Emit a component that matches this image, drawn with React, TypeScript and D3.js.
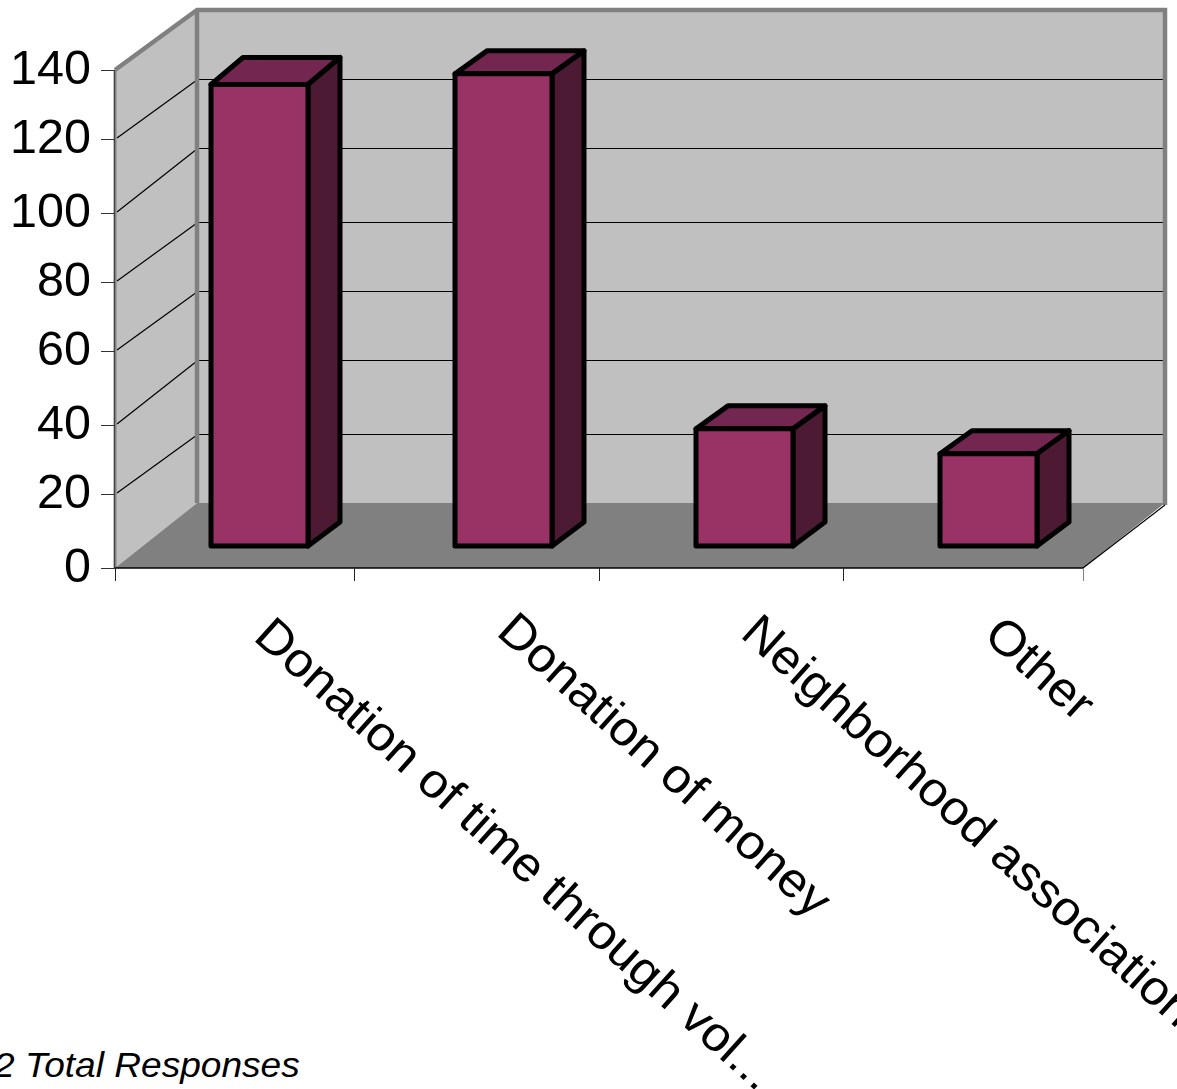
import React from "react";
import * as d3 from "d3";

const categories = ["Donation of time through vol...", "Donation of money", "Neighborhood association", "Other"];
const responses = [130, 133, 33, 26];
const yTicks = [0, 20, 40, 60, 80, 100, 120, 140];
const footnote = "2 Total Responses";

const W = 1177, H = 1089;
const font = "'Liberation Sans', Arial, sans-serif";
const GRAY = "#808080", WALL = "#c0c0c0";

const yFront = d3.scaleLinear().domain(yTicks).range([568, 494, 425, 351, 282, 213, 139, 70]);
const yBack = d3.scaleLinear().domain(yTicks).range([503, 434, 360, 291, 222, 148, 79, 10]);
const xTick = d3.scaleLinear().domain([0, 1, 2, 3, 4]).range([115, 354, 599, 843, 1083]);
const xBar = d3.scaleOrdinal<string, number>().domain(categories).range([211, 455, 696, 940]);
const yBar = d3.scaleLinear().domain([0, 140]).range([546, 49]);

const DX = 82, BAR_W = 97, BAR_DX = 32, BAR_DY_BOTTOM = 24;
const barDepthTop = [27, 23, 23, 23];
const labelAnchor = [[252, 639], [495, 634], [739, 636], [982, 638]];
const pts = (a: number[][]) => a.map((p) => p.join(",")).join(" ");

export default function App() {
  const x0 = xTick(0), x1 = xTick(4);
  const bx0 = x0 + DX, bx1 = x1 + DX;
  const yf0 = yFront(0), yf1 = yFront(140), yb0 = yBack(0), yb1 = yBack(140);
  return (
    <svg width={W} height={H} style={{ position: "absolute", left: 0, top: 0, background: "#fff" }} fontFamily={font}>
      <rect x={bx0} y={yb1} width={bx1 - bx0} height={yb0 - yb1} fill={WALL} />
      <polygon points={pts([[x0, yf1], [bx0, yb1], [bx0, yb0], [x0, yf0]])} fill={WALL} />
      <polygon points={pts([[x0, yf0], [bx0, yb0], [bx1, yb0], [x1, yf0]])} fill={GRAY} />
      {yTicks.filter((t) => t > 0 && t < 140).map((t) => (
        <g key={t} stroke="#000">
          <line x1={bx0} x2={bx1} y1={yBack(t) + 0.5} y2={yBack(t) + 0.5} strokeWidth={1} shapeRendering="crispEdges" />
          <line x1={x0 + 2} x2={bx0} y1={yFront(t) - 1} y2={yBack(t) + 1} strokeWidth={1.2} />
        </g>
      ))}
      <g stroke={GRAY} fill="none">
        <polyline points={pts([[x0, yf1], [bx0, yb1], [bx1, yb1], [bx1, yb0 + 2]])} strokeWidth={4.5} />
        <line x1={bx0} x2={bx0} y1={yb1} y2={yb0} strokeWidth={4.5} />
        <line x1={x0} x2={x0} y1={yf1} y2={yf0} strokeWidth={3} />
        <line x1={x0 - 0.5} x2={x0 - 0.5} y1={yf1} y2={yf0} stroke="#444" strokeWidth={1} />
      </g>
      <line x1={x0} x2={x1} y1={yf0} y2={yf0} stroke="#000" strokeWidth={1.5} />
      <line x1={x1} x2={bx1} y1={yf0} y2={yb0 + 2} stroke="#000" strokeWidth={1.2} />
      {yTicks.map((t) => (
        <g key={t}>
          <line x1={x0 - 14} x2={x0} y1={yFront(t) + 0.5} y2={yFront(t) + 0.5} stroke="#333" strokeWidth={1} shapeRendering="crispEdges" />
          <text x={91} y={yFront(t) + 14} textAnchor="end" fontSize={48.5} fill="#000">{t}</text>
        </g>
      ))}
      {d3.range(5).map((i) => (
        <line key={i} x1={xTick(i) + 0.5} x2={xTick(i) + 0.5} y1={yf0} y2={yf0 + 13} stroke={i === 4 ? GRAY : "#222"} strokeWidth={1} shapeRendering="crispEdges" />
      ))}
      {categories.map((c, i) => {
        const x = xBar(c), top = yBar(responses[i]), bot = yBar(0), r = x + BAR_W, d = barDepthTop[i];
        return (
          <g key={c} stroke="#000" strokeWidth={5} strokeLinejoin="round">
            <polygon points={pts([[x, top], [x + BAR_DX, top - d], [r + BAR_DX, top - d], [r, top]])} fill="#732650" />
            <polygon points={pts([[r, top], [r + BAR_DX, top - d], [r + BAR_DX, bot - BAR_DY_BOTTOM], [r, bot]])} fill="#4d1a33" />
            <rect x={x} y={top} width={BAR_W} height={bot - top} fill="#993366" />
          </g>
        );
      })}
      {categories.map((c, i) => (
        <text key={c} transform={`translate(${labelAnchor[i][0]},${labelAnchor[i][1]}) rotate(41.9) scale(1.05,1)`} fontSize={48.5} fill="#000">{c}</text>
      ))}
      <text transform="translate(-6,1077) scale(1.06,1)" fontSize={35} fontStyle="italic" fill="#000">{footnote}</text>
    </svg>
  );
}
